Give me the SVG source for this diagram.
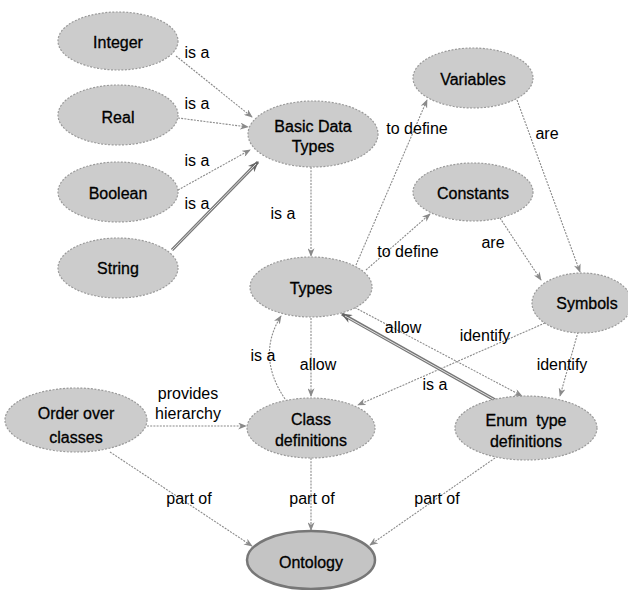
<svg xmlns="http://www.w3.org/2000/svg" width="628" height="590" viewBox="0 0 628 590">
<style>
.n ellipse{fill:#cccccc;stroke:#9a9a9a;stroke-width:1.2;stroke-dasharray:2 1.5}
.n text,.lbl text{font-family:"Liberation Sans",Arial,sans-serif;font-size:16px;fill:#000;text-anchor:middle;dominant-baseline:central}
.n text{stroke:#000;stroke-width:0.3}
.e{fill:none;stroke:#8a8a8a;stroke-width:1.1;stroke-dasharray:2 1.2;marker-end:url(#ah)}
.d{fill:none;stroke:#777;stroke-width:3.2}
.di{fill:none;stroke:#e0e0e0;stroke-width:1}
</style>
<defs>
<marker id="ah" viewBox="0 0 10 8" refX="9" refY="4" markerWidth="9" markerHeight="7" orient="auto" markerUnits="userSpaceOnUse">
<path d="M0,0 L10,4 L0,8 L3,4 z" fill="#8a8a8a"/>
</marker>
<marker id="ah2" viewBox="0 0 10 8" refX="9" refY="4" markerWidth="11" markerHeight="9" orient="auto" markerUnits="userSpaceOnUse">
<path d="M0,0 L10,4 L0,8 L3,4 z" fill="#666"/>
</marker>
</defs>
<rect width="628" height="590" fill="#fff"/>
<g id="connectors">
<path class="e" d="M176,56 L252,117"/>
<path class="e" d="M178,118 L248,127"/>
<path class="e" d="M178,190 L250,150"/>
<path class="d" d="M172,250 L258,162" marker-end="url(#ah2)"/>
<path class="di" d="M172,250 L256,164"/>
<path class="e" d="M311,167 L311,256"/>
<path class="e" d="M356,265 L427,100"/>
<path class="e" d="M366,270 L430,214"/>
<path class="e" d="M517,100 L580,272"/>
<path class="e" d="M500,218 L541,280"/>
<path class="e" d="M545,323 L358,405"/>
<path class="e" d="M578,332 L560,396"/>
<path class="e" d="M352,306 L522,396"/>
<path class="d" d="M495,400 L342,314" marker-end="url(#ah2)"/>
<path class="di" d="M495,400 L345,316"/>
<path class="e" d="M311,318 L311,396"/>
<path class="e" d="M285,399 Q256,356 281,316"/>
<path class="e" d="M147,426 L246,426"/>
<path class="e" d="M110,452 L252,546"/>
<path class="e" d="M311,458 L311,530"/>
<path class="e" d="M495,458 L370,545"/>
</g>
<g class="lbl">
<text x="197" y="52">is a</text>
<text x="197" y="103">is a</text>
<text x="197" y="160">is a</text>
<text x="197" y="203">is a</text>
<text x="283" y="213">is a</text>
<text x="417" y="128">to define</text>
<text x="408" y="251">to define</text>
<text x="547" y="133">are</text>
<text x="493" y="242">are</text>
<text x="485" y="335">identify</text>
<text x="562" y="364">identify</text>
<text x="403" y="327">allow</text>
<text x="435" y="384">is a</text>
<text x="318" y="364">allow</text>
<text x="263" y="355">is a</text>
<text x="188" y="393">provides</text>
<text x="188" y="413">hierarchy</text>
<text x="189" y="498">part of</text>
<text x="312" y="498">part of</text>
<text x="437" y="498">part of</text>
</g>
<g id="integer" class="n"><ellipse cx="118" cy="41" rx="60" ry="29"/><text x="118" y="42">Integer</text></g>
<g id="real" class="n"><ellipse cx="118" cy="115" rx="60" ry="30"/><text x="118" y="117">Real</text></g>
<g id="boolean" class="n"><ellipse cx="118" cy="192" rx="60" ry="30"/><text x="118" y="193">Boolean</text></g>
<g id="string" class="n"><ellipse cx="118" cy="268" rx="60" ry="30"/><text x="118" y="268">String</text></g>
<g id="basic" class="n"><ellipse cx="313" cy="134" rx="65" ry="33"/><text x="313" y="126">Basic Data</text><text x="313" y="146">Types</text></g>
<g id="types" class="n"><ellipse cx="311" cy="287" rx="61" ry="30"/><text x="311" y="288">Types</text></g>
<g id="variables" class="n"><ellipse cx="473" cy="78" rx="60" ry="30"/><text x="473" y="79">Variables</text></g>
<g id="constants" class="n"><ellipse cx="473" cy="192" rx="60" ry="29"/><text x="473" y="193">Constants</text></g>
<g id="symbols" class="n"><ellipse cx="582" cy="303" rx="50" ry="30"/><text x="587" y="303">Symbols</text></g>
<g id="class" class="n"><ellipse cx="311" cy="428" rx="64" ry="30"/><text x="311" y="419">Class</text><text x="311" y="440">definitions</text></g>
<g id="enum" class="n"><ellipse cx="526" cy="428" rx="71" ry="32"/><text x="526" y="420" xml:space="preserve">Enum  type</text><text x="526" y="441">definitions</text></g>
<g id="order" class="n"><ellipse cx="76" cy="420" rx="71" ry="32"/><text x="76" y="413">Order over</text><text x="76" y="437">classes</text></g>
<g id="ontology" class="n"><ellipse cx="311" cy="560" rx="64" ry="29" style="stroke:#777;stroke-width:2.5;stroke-dasharray:none;fill:#c4c4c4"/><text x="311" y="562">Ontology</text></g>
</svg>
